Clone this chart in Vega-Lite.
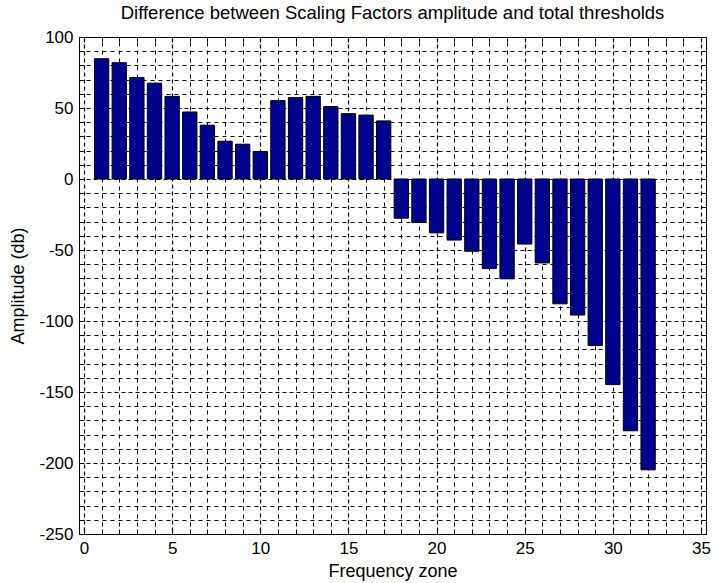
{
  "$schema": "https://vega.github.io/schema/vega-lite/v6.json",
  "autosize": "none",
  "width": 627,
  "height": 497,
  "padding": {"left": 79, "top": 37, "right": 9, "bottom": 49},
  "background": "white",
  "title": {"text": "Difference between Scaling Factors amplitude and total thresholds", "font": "Liberation Sans", "fontSize": 18.5, "fontWeight": "normal", "color": "black", "anchor": "middle", "offset": 6},
  "data": {"values": [
    {"zone": 1, "amp": 84.7}, {"zone": 2, "amp": 81.9}, {"zone": 3, "amp": 71.4}, {"zone": 4, "amp": 67.5},
    {"zone": 5, "amp": 58.2}, {"zone": 6, "amp": 47.2}, {"zone": 7, "amp": 37.9}, {"zone": 8, "amp": 26.6},
    {"zone": 9, "amp": 24.5}, {"zone": 10, "amp": 19.4}, {"zone": 11, "amp": 55.2}, {"zone": 12, "amp": 57.3},
    {"zone": 13, "amp": 58.2}, {"zone": 14, "amp": 51.0}, {"zone": 15, "amp": 46.0}, {"zone": 16, "amp": 45.0},
    {"zone": 17, "amp": 40.9}, {"zone": 18, "amp": -27.6}, {"zone": 19, "amp": -30.6}, {"zone": 20, "amp": -37.9},
    {"zone": 21, "amp": -43.0}, {"zone": 22, "amp": -50.9}, {"zone": 23, "amp": -63.1}, {"zone": 24, "amp": -70.3},
    {"zone": 25, "amp": -45.8}, {"zone": 26, "amp": -59.1}, {"zone": 27, "amp": -87.9}, {"zone": 28, "amp": -95.8},
    {"zone": 29, "amp": -117.3}, {"zone": 30, "amp": -144.8}, {"zone": 31, "amp": -177.3}, {"zone": 32, "amp": -204.8}
  ]},
  "resolve": {"axis": {"x": "independent", "y": "independent"}},
  "layer": [
    {
      "mark": {"type": "bar", "width": 14.3, "fill": "#00008F", "stroke": "black", "strokeWidth": 1},
      "encoding": {
        "x": {"field": "zone", "type": "quantitative", "scale": {"domain": [0, 35], "nice": false, "zero": false},
          "axis": {"orient": "bottom", "values": [0, 5, 10, 15, 20, 25, 30, 35], "grid": true, "gridDash": [4, 3], "gridColor": "black", "gridOpacity": 1, "gridWidth": 1.2,
            "domain": false, "ticks": false, "labelPadding": 6, "labelFont": "Liberation Sans", "labelFontSize": 17, "labelColor": "black",
            "title": "Frequency zone", "titleFont": "Liberation Sans", "titleFontSize": 18, "titleFontWeight": "normal", "titleColor": "black", "titlePadding": 6}},
        "y": {"field": "amp", "type": "quantitative", "scale": {"domain": [-250, 100], "nice": false},
          "axis": {"orient": "left", "values": [-250, -200, -150, -100, -50, 0, 50, 100], "grid": true, "gridDash": [4, 3], "gridColor": "black", "gridOpacity": 1, "gridWidth": 1.2,
            "domain": false, "ticks": false, "labelPadding": 6, "labelFont": "Liberation Sans", "labelFontSize": 17, "labelColor": "black",
            "labelExpr": "replace(datum.label, '−', '-')",
            "title": "Amplitude (db)", "titleFont": "Liberation Sans", "titleFontSize": 18, "titleFontWeight": "normal", "titleColor": "black", "titlePadding": 11}}
      }
    },
    {
      "mark": {"type": "point", "opacity": 0},
      "encoding": {
        "x": {"field": "zone", "type": "quantitative",
          "axis": {"orient": "top", "values": [1,2,3,4,6,7,8,9,11,12,13,14,16,17,18,19,21,22,23,24,26,27,28,29,31,32,33,34], "grid": true, "gridDash": [4, 4], "gridColor": "black", "gridOpacity": 1, "gridWidth": 1,
            "domain": false, "ticks": false, "labels": false, "title": null}},
        "y": {"field": "amp", "type": "quantitative",
          "axis": {"orient": "right", "values": [-240,-230,-220,-210,-190,-180,-170,-160,-140,-130,-120,-110,-90,-80,-70,-60,-40,-30,-20,-10,10,20,30,40,60,70,80,90], "grid": true, "gridDash": [4, 4], "gridColor": "black", "gridOpacity": 1, "gridWidth": 1,
            "domain": false, "ticks": false, "labels": false, "title": null}}
      }
    },
    {
      "mark": {"type": "point", "opacity": 0},
      "encoding": {
        "x": {"field": "zone", "type": "quantitative",
          "axis": {"orient": "bottom", "values": [0,1,2,3,4,5,6,7,8,9,10,11,12,13,14,15,16,17,18,19,20,21,22,23,24,25,26,27,28,29,30,31,32,33,34,35], "grid": false, "domain": false, "ticks": true, "tickSize": -5, "tickColor": "black", "tickWidth": 1, "labels": false, "title": null, "zindex": 1}},
        "y": {"field": "amp", "type": "quantitative",
          "axis": {"orient": "left", "values": [-250,-240,-230,-220,-210,-200,-190,-180,-170,-160,-150,-140,-130,-120,-110,-100,-90,-80,-70,-60,-50,-40,-30,-20,-10,0,10,20,30,40,50,60,70,80,90,100], "grid": false, "domain": false, "ticks": true, "tickSize": -5, "tickColor": "black", "tickWidth": 1, "labels": false, "title": null, "zindex": 1}}
      }
    },
    {
      "mark": {"type": "point", "opacity": 0},
      "encoding": {
        "x": {"field": "zone", "type": "quantitative",
          "axis": {"orient": "top", "values": [0,1,2,3,4,5,6,7,8,9,10,11,12,13,14,15,16,17,18,19,20,21,22,23,24,25,26,27,28,29,30,31,32,33,34,35], "grid": false, "domain": false, "ticks": true, "tickSize": -5, "tickColor": "black", "tickWidth": 1, "labels": false, "title": null, "zindex": 1}},
        "y": {"field": "amp", "type": "quantitative",
          "axis": {"orient": "right", "values": [-250,-240,-230,-220,-210,-200,-190,-180,-170,-160,-150,-140,-130,-120,-110,-100,-90,-80,-70,-60,-50,-40,-30,-20,-10,0,10,20,30,40,50,60,70,80,90,100], "grid": false, "domain": false, "ticks": true, "tickSize": -5, "tickColor": "black", "tickWidth": 1, "labels": false, "title": null, "zindex": 1}}
      }
    }
  ],
  "config": {"view": {"stroke": "black", "strokeWidth": 1}}
}
